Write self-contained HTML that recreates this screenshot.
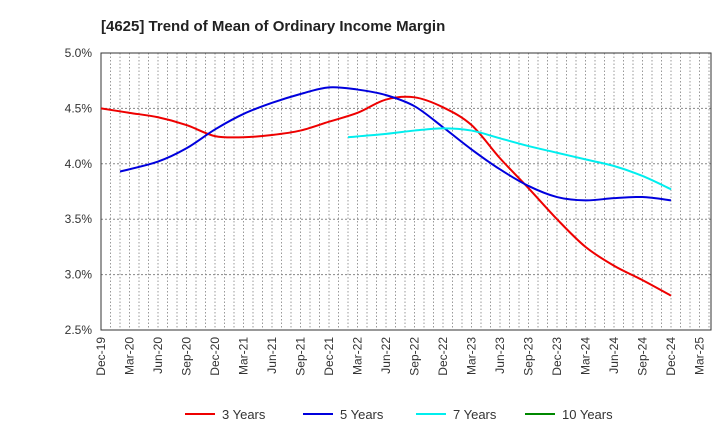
<!DOCTYPE html>
<html><head><meta charset="utf-8"><style>
body{margin:0;background:#fff;font-family:"Liberation Sans",sans-serif;}
</style></head><body>
<svg id="c" width="720" height="440" xmlns="http://www.w3.org/2000/svg">
<text x="101" y="31" font-size="15" font-weight="bold" fill="#222">[4625]  Trend of Mean of Ordinary Income Margin</text>
<g id="grid"></g><g id="axes"></g><g id="series"></g><g id="legend"></g>
</svg>
<script>
const xLabels=["Dec-19","Mar-20","Jun-20","Sep-20","Dec-20","Mar-21","Jun-21","Sep-21","Dec-21","Mar-22","Jun-22","Sep-22","Dec-22","Mar-23","Jun-23","Sep-23","Dec-23","Mar-24","Jun-24","Sep-24","Dec-24","Mar-25"];
const yTicks=[2.5,3.0,3.5,4.0,4.5,5.0];
const months3=[0,3,6,9,12,15,18,21,24,27,30,33,36,39,42,45,48,51,54,57,60];
const vals3=[4.50,4.46,4.42,4.35,4.25,4.24,4.26,4.30,4.38,4.46,4.58,4.60,4.51,4.35,4.05,3.78,3.50,3.25,3.08,2.95,2.81];
const months5=[2,6,9,12,15,18,21,24,27,30,33,36,39,42,45,48,51,54,57,60];
const vals5=[3.93,4.02,4.14,4.31,4.45,4.55,4.63,4.69,4.67,4.62,4.52,4.33,4.13,3.95,3.80,3.70,3.67,3.69,3.70,3.67];
const months7=[26,30,33,36,39,42,45,48,51,54,57,60];
const vals7=[4.24,4.27,4.30,4.32,4.30,4.23,4.16,4.10,4.04,3.98,3.89,3.77];
const months10=[];
const vals10=[];
const L=101,R=711,T=53,B=330;
const X=m=>L+m*9.5;
const Y=v=>T+(5.0-v)/2.5*(B-T);
const NS="http://www.w3.org/2000/svg";
function mk(tag,attrs,parent,txt){const e=document.createElementNS(NS,tag);for(const k in attrs)e.setAttribute(k,attrs[k]);if(txt!==undefined)e.textContent=txt;parent.appendChild(e);return e;}
const grid=document.getElementById('grid'),axes=document.getElementById('axes'),ser=document.getElementById('series'),leg=document.getElementById('legend');
for(let m=1;X(m)<R;m++){const e=mk('line',{x1:X(m),x2:X(m),y1:T,y2:B,stroke:'#999','stroke-dasharray':'1.5,2','stroke-width':1},grid);

}
yTicks.forEach(v=>{const e=mk('line',{x1:L,x2:R,y1:Y(v),y2:Y(v),stroke:'#888','stroke-dasharray':'2,2','stroke-width':1},grid);


const t=mk('text',{x:92,y:Y(v)+4,'font-size':12,'text-anchor':'end',fill:'#333'},axes,v.toFixed(1)+'%');

});
const fr=mk('rect',{x:L,y:T,width:R-L,height:B-T,fill:'none',stroke:'#333','stroke-width':1},axes);


xLabels.forEach((s,i)=>{const x=X(i*3);const t=mk('text',{x:0,y:0,'font-size':12,'text-anchor':'end',fill:'#333',transform:`translate(${x+4},337) rotate(-90)`},axes,s);

});
function path(ms,vs){const p=ms.map((m,i)=>[X(m),Y(vs[i])]);if(p.length<2)return '';let d=`M${p[0][0]},${p[0][1]}`;
for(let i=0;i<p.length-1;i++){const p0=p[Math.max(0,i-1)],p1=p[i],p2=p[i+1],p3=p[Math.min(p.length-1,i+2)];
d+=` C${p1[0]+(p2[0]-p0[0])/6},${p1[1]+(p2[1]-p0[1])/6} ${p2[0]-(p3[0]-p1[0])/6},${p2[1]-(p3[1]-p1[1])/6} ${p2[0]},${p2[1]}`;}return d;}
const series=[["3 Years","#e00",months3,vals3,185],["5 Years","#00d",months5,vals5,303],["7 Years","#0ee",months7,vals7,416],["10 Years","#080",months10,vals10,525]];
series.forEach(([n,c,ms,vs,lx])=>{const slug=n.replace(' ','-').toLowerCase();
if(ms.length>1){const e=mk('path',{d:path(ms,vs),fill:'none',stroke:c,'stroke-width':2},ser);

}
const g=mk('g',{},leg);


mk('line',{x1:lx,x2:lx+30,y1:414,y2:414,stroke:c,'stroke-width':2},g);
mk('text',{x:lx+37,y:419,'font-size':13,fill:'#333'},g,n);});
</script>
</body></html>
